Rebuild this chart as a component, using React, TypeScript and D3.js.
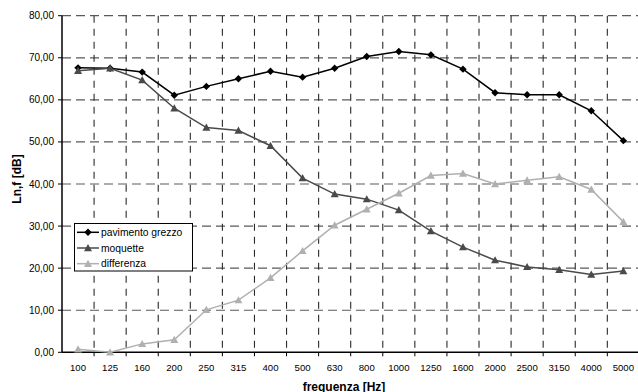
import React from "react";
import * as d3 from "d3";

const categories = ["100","125","160","200","250","315","400","500","630","800","1000","1250","1600","2000","2500","3150","4000","5000"];
const grezzo = [67.6,67.5,66.6,61.1,63.2,65.0,66.8,65.4,67.5,70.3,71.5,70.7,67.3,61.7,61.2,61.2,57.4,50.3];
const moquette = [66.9,67.5,64.7,58.0,53.4,52.7,49.1,41.4,37.6,36.4,33.8,28.8,25.0,21.9,20.3,19.6,18.5,19.3];
const differenza = [0.7,0.0,2.0,3.0,10.1,12.4,17.7,24.1,30.2,34.0,37.8,42.0,42.5,40.0,40.9,41.7,38.7,31.0];
const yTicks = [0,10,20,30,40,50,60,70,80];
const seriesNames = ["pavimento grezzo","moquette","differenza"];

const W = 638, H = 392;
const left = 62, right = 639.4, top = 15.7, bottom = 352.3;
const font = "Arial, 'Liberation Sans', sans-serif";

const x = d3.scaleBand<string>().domain(categories).range([left, right]).padding(0);
const y = d3.scaleLinear().domain([0, 80]).range([bottom, top]);

const colors = ["#000000", "#4a4a4a", "#b0b0b0"];
const data = [grezzo, moquette, differenza];

function Marker({ kind, cx, cy, color }: { kind: number; cx: number; cy: number; color: string }) {
  if (kind === 0) {
    const s = 3.7;
    return <path d={`M${cx},${cy - s}L${cx + s},${cy}L${cx},${cy + s}L${cx - s},${cy}Z`} fill={color} />;
  }
  const s = 4;
  return <path d={`M${cx},${cy - s}L${cx + s},${cy + s * 0.8}L${cx - s},${cy + s * 0.8}Z`} fill={color} />;
}

export default function App() {
  const line = d3.line<number>().x((_, i) => x(categories[i])! + x.bandwidth() / 2).y((d) => y(d));
  const bw = x.bandwidth();
  return (
    <svg width={W} height={H} style={{ position: "absolute", left: 0, top: 0, background: "#fff" }}>
      {yTicks.filter((t) => t > 0).map((t) => (
        <line key={"h" + t} x1={left} x2={right} y1={y(t)} y2={y(t)} stroke="#5a5a5a" strokeWidth={1.2} strokeDasharray="9,5" />
      ))}
      {categories.slice(1).map((c) => (
        <line key={"v" + c} x1={x(c)!} x2={x(c)!} y1={top} y2={bottom} stroke="#2a2a2a" strokeWidth={1.1} strokeDasharray="7,6" />
      ))}
      <line x1={left} x2={left} y1={top} y2={bottom} stroke="#000" strokeWidth={1.5} />
      <line x1={left} x2={right} y1={bottom} y2={bottom} stroke="#000" strokeWidth={1.6} />
      {yTicks.map((t) => (
        <g key={"yt" + t}>
          <line x1={left - 4} x2={left} y1={y(t)} y2={y(t)} stroke="#000" />
          <text x={54} y={y(t) + 3.5} fontSize={10} fontFamily={font} textAnchor="end" fill="#000">
            {t.toFixed(2).replace(".", ",")}
          </text>
        </g>
      ))}
      {categories.map((c) => (
        <g key={"xt" + c}>
          <line x1={x(c)! + bw} x2={x(c)! + bw} y1={bottom} y2={bottom + 4} stroke="#000" />
          <text x={x(c)! + bw / 2} y={370.5} fontSize={9.6} fontFamily={font} textAnchor="middle" fill="#000">
            {c}
          </text>
        </g>
      ))}
      {data.map((s, k) => (
        <g key={"s" + k}>
          <path d={line(s)!} fill="none" stroke={colors[k]} strokeWidth={1.5} />
          {s.map((v, i) => (
            <Marker key={i} kind={k === 0 ? 0 : 1} cx={x(categories[i])! + bw / 2} cy={y(v)} color={colors[k]} />
          ))}
        </g>
      ))}
      <text x={344} y={390.5} fontSize={12} fontWeight="bold" fontFamily={font} textAnchor="middle">
        frequenza [Hz]
      </text>
      <text transform={`translate(21,179) rotate(-90)`} fontSize={12} fontWeight="bold" fontFamily={font} textAnchor="middle">
        Ln,f [dB]
      </text>
      <g>
        <rect x={74.5} y={223.5} width={118} height={47.5} fill="#fff" stroke="#000" strokeWidth={1} />
        {seriesNames.map((n, k) => {
          const cy = 232.3 + k * 15.7;
          return (
            <g key={n}>
              <line x1={77} x2={99} y1={cy} y2={cy} stroke={colors[k]} strokeWidth={1.5} />
              <Marker kind={k === 0 ? 0 : 1} cx={88} cy={cy} color={colors[k]} />
              <text x={101} y={cy + 3.6} fontSize={10.3} fontFamily={font} fill="#000">
                {n}
              </text>
            </g>
          );
        })}
      </g>
    </svg>
  );
}
